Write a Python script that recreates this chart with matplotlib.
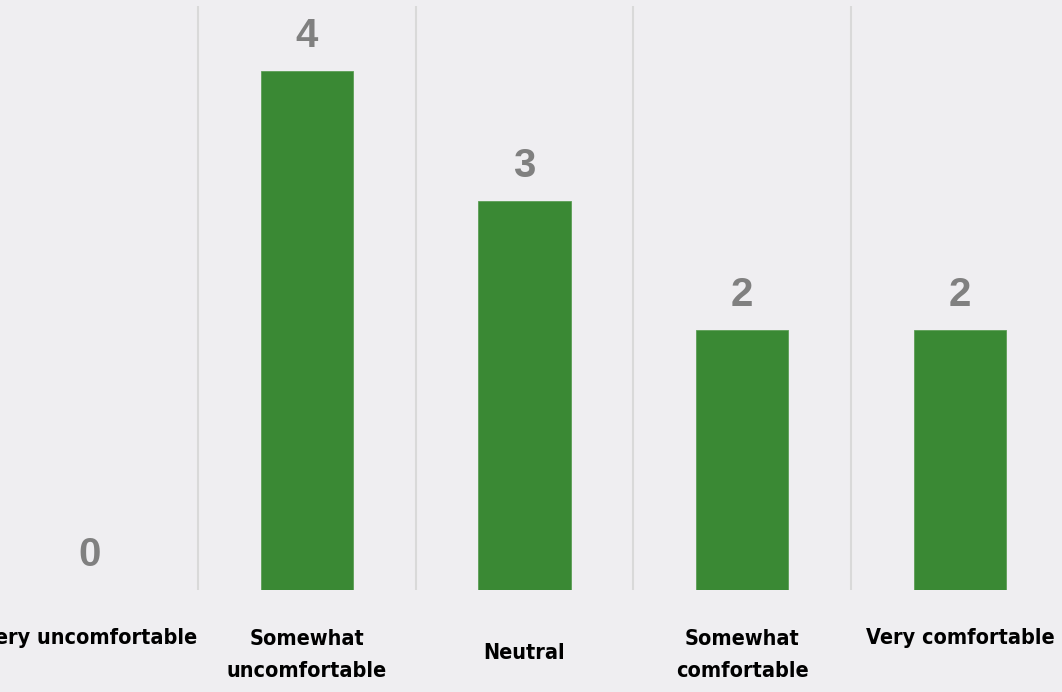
import matplotlib
matplotlib.use("Agg")
import matplotlib.pyplot as plt
import matplotlib.transforms as mtransforms

categories = ["Very uncomfortable", "Somewhat\nuncomfortable", "Neutral",
              "Somewhat\ncomfortable", "Very comfortable"]
values = [0, 4, 3, 2, 2]

BG = "#efeef1"
BAR = "#3a8934"
LABEL_GREY = "#808080"
SEP = "#d9d9d9"

fig = plt.figure(figsize=(10.62, 6.92), dpi=100, facecolor=BG)
W, H = 1062, 692
left_px, right_px = -19.75, 1068.75
top_px, bottom_px = 6, 590
ax = fig.add_axes([left_px / W, (H - bottom_px) / H,
                   (right_px - left_px) / W, (bottom_px - top_px) / H])
ax.set_facecolor(BG)

x = list(range(len(categories)))
ax.bar(x, values, width=0.423, color=BAR, edgecolor="#5c9e56", linewidth=0.6, zorder=3)
ax.set_xlim(-0.5, len(categories) - 0.5)
ax.set_ylim(0, 4.5)

for sep in range(len(categories) - 1):
    ax.axvline(sep + 0.5, color=SEP, linewidth=1.5, zorder=1)

for xi, v in zip(x, values):
    ax.annotate(str(v), (xi, v), xytext=(0, 11.5), textcoords="offset points",
                ha="center", va="bottom", fontsize=29, fontweight="bold",
                color=LABEL_GREY, family="Liberation Sans")

for s in ax.spines.values():
    s.set_visible(False)
ax.set_xticks([])
ax.set_yticks([])

trans = mtransforms.blended_transform_factory(ax.transData, fig.transFigure)
for xi, lab in zip(x, categories):
    if "\n" in lab:
        y_px = 655
    elif lab.startswith("Very"):
        y_px = 638
    else:
        y_px = 653
    ax.text(xi, 1 - y_px / H, lab, transform=trans, ha="center", va="center",
            fontsize=15.5, fontweight="bold", color="black", linespacing=1.78,
            family="DejaVu Sans", fontstretch="condensed")

fig.savefig("out.png", dpi=100, facecolor=BG)
